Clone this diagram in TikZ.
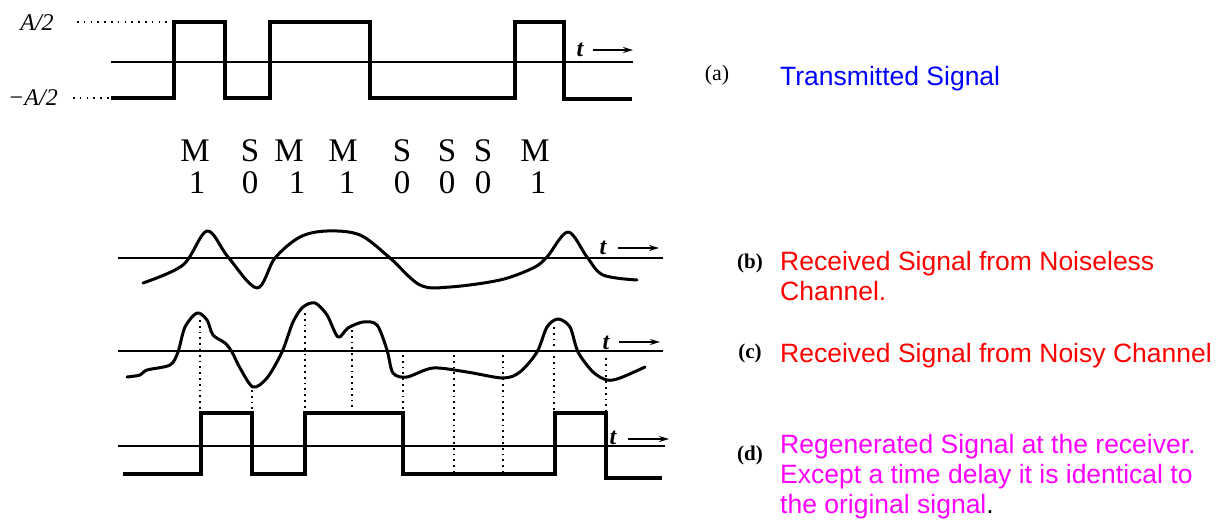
\documentclass[tikz,border=0pt]{standalone}
\usepackage{fontspec}
\setmainfont{Liberation Serif}
\newfontfamily\arialf{Liberation Sans}
\usetikzlibrary{arrows.meta}
\definecolor{txblue}{RGB}{0,0,255}
\definecolor{txred}{RGB}{255,0,0}
\definecolor{txmag}{RGB}{255,0,255}
\begin{document}
\begin{tikzpicture}[x=1pt,y=-1pt,
  axisline/.style={line width=1.9pt},
  sqwave/.style={line width=3.4pt, line join=miter},
  curve/.style={line width=3pt, line cap=round, line join=round},
  sampleline/.style={line width=2pt, dash pattern=on 1.8pt off 4pt},
  levelline/.style={line width=1.8pt, dash pattern=on 1.6pt off 5.2pt},
  tarrow/.style={line width=1.5pt, -{Stealth[length=10pt,width=6pt]}},
  tlab/.style={font=\fontsize{24}{24}\selectfont\itshape\bfseries, inner sep=0pt},
  amp/.style={font=\fontsize{24}{24}\selectfont\itshape, inner sep=0pt},
  bitlab/.style={font=\fontsize{33}{33}\selectfont, inner sep=0pt, anchor=base},
  partlab/.style={font=\fontsize{21}{21}\selectfont\bfseries, inner sep=0pt},
  desc/.style={font=\arialf\fontsize{26.5}{26.5}\selectfont, inner sep=0pt, anchor=base west}
]
\useasboundingbox (0,0) rectangle (1225,519);

% ---------- (a) transmitted signal ----------
\node[amp] (ahi) at (37,23) {A/2};
\node[amp] (alo) at (33,98) {\char"2212 A/2};
\coordinate (ahiA) at (77,22);  \coordinate (ahiB) at (168,22);
\coordinate (aloA) at (73,98);  \coordinate (aloB) at (110,98);
\draw[levelline] (ahiA) -- (ahiB);
\draw[levelline] (aloA) -- (aloB);
\draw[axisline] (111,62) -- (633,62);
\draw[sqwave] (111,98) -- (174,98) -- (174,22) -- (225,22) -- (225,98) -- (270,98)
  -- (270,22) -- (370,22) -- (370,98) -- (515,98) -- (515,22) -- (564,22)
  -- (564,99) -- (632,99);
\node[tlab] (ta) at (580,50) {t};
\coordinate (taA) at (593,50); \coordinate (taB) at (633,50);
\draw[tarrow] (taA) -- (taB);

% ---------- bit labels ----------
\node[bitlab] (m1) at (195,161) {M};
\node[bitlab] (m2) at (250,161) {S};
\node[bitlab] (m3) at (289,161) {M};
\node[bitlab] (m4) at (343,161) {M};
\node[bitlab] (m5) at (402,161) {S};
\node[bitlab] (m6) at (447,161) {S};
\node[bitlab] (m7) at (483,161) {S};
\node[bitlab] (m8) at (535,161) {M};
\node[bitlab] (d1) at (197,193) {1};
\node[bitlab] (d2) at (250,193) {0};
\node[bitlab] (d3) at (297,193) {1};
\node[bitlab] (d4) at (347,193) {1};
\node[bitlab] (d5) at (402,193) {0};
\node[bitlab] (d6) at (447,193) {0};
\node[bitlab] (d7) at (483,193) {0};
\node[bitlab] (d8) at (538,193) {1};

% ---------- (b) noiseless received ----------
\draw[axisline] (118,258) -- (663,258);
\draw[curve] plot[smooth, tension=0.55] coordinates {
  (143,283) (183,265) (207,231) (228,257) (257,288) (275,258) (300,237)
  (327,231) (360,235) (390,258) (420,285) (450,287) (500,280) (533,268)
  (547,257) (568,232) (587,257) (603,275) (637,280)};
\node[tlab] (tb) at (603,248) {t};
\coordinate (tbA) at (618,248); \coordinate (tbB) at (659,248);
\draw[tarrow] (tbA) -- (tbB);

% ---------- (c) noisy received ----------
\draw[axisline] (118,351) -- (663,351);
\draw[curve] plot[smooth, tension=0.5] coordinates {
  (127,377) (140,375) (147,370) (170,365) (178,352) (185,327) (197,313)
  (207,320) (213,335) (225,343) (232,352) (240,368) (253,387) (267,378)
  (282,352) (293,322) (303,307) (315,303) (327,315) (338,337) (348,328)
  (363,322) (377,325) (387,350) (393,373) (407,377) (433,368) (467,372)
  (503,378) (520,372) (537,352) (547,327) (558,319) (570,327) (578,352)
  (593,372) (607,380) (620,378) (645,367)};
\node[tlab] (tc) at (606,343) {t};
\coordinate (tcA) at (619,342); \coordinate (tcB) at (660,342);
\draw[tarrow] (tcA) -- (tcB);

% ---------- sampling instants ----------
\draw[sampleline] (200,320) -- (200,411);
\draw[sampleline] (252,390) -- (252,411);
\draw[sampleline] (305,313) -- (305,411);
\draw[sampleline] (352,330) -- (352,407);
\draw[sampleline] (403,355) -- (403,411);
\draw[sampleline] (454,355) -- (454,474);
\draw[sampleline] (503,355) -- (503,474);
\draw[sampleline] (554,327) -- (554,411);
\draw[sampleline] (606,358) -- (606,411);

% ---------- (d) regenerated ----------
\draw[axisline] (118,446) -- (665,446);
\draw[sqwave] (123,474) -- (201,474) -- (201,413) -- (252,413) -- (252,474) -- (305,474)
  -- (305,413) -- (403,413) -- (403,474) -- (555,474) -- (555,413) -- (606,413)
  -- (606,478) -- (662,478);
\node[tlab] (td) at (613,438) {t};
\coordinate (tdA) at (628,439); \coordinate (tdB) at (669,439);
\draw[tarrow] (tdA) -- (tdB);

% ---------- right-hand labels ----------
\node[font=\fontsize{22}{22}\selectfont, inner sep=0pt] (la) at (717,75) {(a)};
\node[desc, text=txblue] (da) at (780,85) {Transmitted Signal};

\node[partlab] (lb) at (750,263) {(b)};
\node[desc, text=txred] (db1) at (780,270) {Received Signal from Noiseless};
\node[desc, text=txred] (db2) at (780,300) {Channel.};

\node[partlab] (lc) at (750,353) {(c)};
\node[desc, text=txred] (dc) at (780,362) {Received Signal from Noisy Channel};

\node[partlab] (ld) at (750,455) {(d)};
\node[desc, text=txmag] (dd1) at (780,453) {Regenerated Signal at the receiver.};
\node[desc, text=txmag] (dd2) at (780,483) {Except a time delay it is identical to};
\node[desc] (dd3) at (780,513) {\textcolor{txmag}{the original signal}.};
\end{tikzpicture}
\end{document}
